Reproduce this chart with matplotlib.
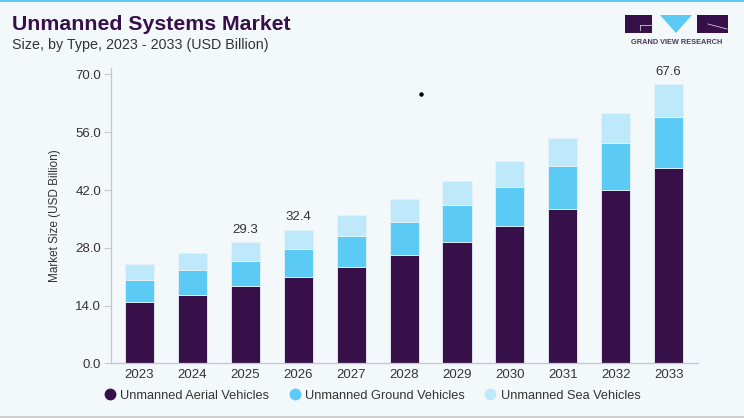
import matplotlib
matplotlib.use("Agg")
import matplotlib.pyplot as plt
import numpy as np
from matplotlib.lines import Line2D
from matplotlib.patches import Polygon, Rectangle

# values (USD billion)
years = ["2023", "2024", "2025", "2026", "2027", "2028",
         "2029", "2030", "2031", "2032", "2033"]
aerial = [14.9, 16.6, 18.7, 20.8, 23.3, 26.3, 29.5, 33.2, 37.3, 42.0, 47.3]
ground = [5.4, 5.9, 6.2, 7.0, 7.5, 7.9, 8.8, 9.5, 10.5, 11.4, 12.4]
sea = [3.8, 4.2, 4.4, 4.6, 5.1, 5.6, 5.8, 6.4, 6.7, 7.3, 7.9]
labelled = {"2025": "29.3", "2026": "32.4", "2033": "67.6"}
series_names = ["Unmanned Aerial Vehicles", "Unmanned Ground Vehicles",
                "Unmanned Sea Vehicles"]
y_ticks = [0, 14, 28, 42, 56, 70]

DARK = "#37104A"
GROUND = "#5BCBF6"
SEA = "#BDE9FA"
BG = "#F3F8FB"
TXT = "#333333"

plt.rcParams["font.family"] = ["Liberation Sans", "DejaVu Sans"]

fig = plt.figure(figsize=(7.44, 4.18), dpi=100, facecolor=BG)
ax = fig.add_axes([0.1488, 0.1309, 0.789, 0.7057])
ax.set_facecolor(BG)

x = np.arange(len(years))
a = np.array(aerial)
g = np.array(ground)
s = np.array(sea)
w = 0.55
edge = dict(edgecolor="#E6F1F7", linewidth=0.6)
ax.bar(x, a, w, color=DARK, **edge)
ax.bar(x, g, w, bottom=a, color=GROUND, **edge)
ax.bar(x, s, w, bottom=a + g, color=SEA, **edge)

totals = a + g + s
for i, yr in enumerate(years):
    if yr in labelled:
        ax.text(x[i], totals[i] + 1.6, labelled[yr], ha="center", va="bottom",
                fontsize=9.5, color=TXT)

ax.set_xlim(-0.545, len(years) - 1 + 0.55)
ax.set_ylim(0, 71.5)
ax.set_xticks(x)
ax.set_xticklabels(years)
ax.set_yticks(y_ticks)
ax.set_yticklabels([f"{v:.1f}" for v in y_ticks])
ax.tick_params(axis="x", length=0, pad=4, labelsize=9.5, labelcolor=TXT)
ax.tick_params(axis="y", length=5, width=0.8, color="#C4C8CC", pad=2,
               labelsize=9.5, labelcolor=TXT)
for side in ("top", "right"):
    ax.spines[side].set_visible(False)
for side in ("left", "bottom"):
    ax.spines[side].set_color("#C4C8CC")
    ax.spines[side].set_linewidth(0.9)

ax.set_ylabel("Market Size (USD Billion)", fontsize=8.5, color=TXT)
ax.yaxis.set_label_coords(-0.084, 0.5)

handles = [Line2D([], [], marker="o", linestyle="none", markersize=7.5,
                  markerfacecolor=c, markeredgecolor=c)
           for c in (DARK, GROUND, SEA)]
fig.legend(handles, series_names, loc="center", bbox_to_anchor=(0.5, 0.053),
           ncol=3, frameon=False, fontsize=9.2, handletextpad=0.3,
           columnspacing=1.5, labelcolor=TXT, handlelength=1.0)

# titles
fig.text(12 / 744, 1 - 25 / 418, "Unmanned Systems Market", fontsize=15.3,
         fontweight="bold", color=DARK, va="center", ha="left")
fig.text(12 / 744, 1 - 45 / 418, "Size, by Type, 2023 - 2033 (USD Billion)",
         fontsize=10.3, color=TXT, va="center", ha="left")

# frame: cyan top line and grey bottom line
fig.add_artist(Rectangle((0, 1 - 2 / 418), 1, 2 / 418, transform=fig.transFigure,
                         facecolor="#5BCBF6", edgecolor="none"))
fig.add_artist(Rectangle((0, 0), 1, 2 / 418, transform=fig.transFigure,
                         facecolor="#CFCFCF", edgecolor="none"))

# logo
def px(xp, yp):
    return (xp / 744, 1 - yp / 418)

fig.add_artist(Rectangle(px(625, 33), 27 / 744, 18 / 418,
                         transform=fig.transFigure, facecolor=DARK, edgecolor="none"))
fig.add_artist(Rectangle(px(697, 33), 31 / 744, 18 / 418,
                         transform=fig.transFigure, facecolor=DARK, edgecolor="none"))
fig.add_artist(Polygon([px(660, 15), px(692, 15), px(676, 33)],
                       transform=fig.transFigure, facecolor=GROUND, edgecolor="none"))
fig.add_artist(Line2D([px(640, 25)[0], px(652, 25)[0]], [px(640, 25)[1]] * 2,
                      transform=fig.transFigure, color="#CFC6D6", linewidth=0.6))
fig.add_artist(Line2D([px(640, 25)[0]] * 2, [px(640, 25)[1], px(640, 30)[1]],
                      transform=fig.transFigure, color="#CFC6D6", linewidth=0.6))
fig.add_artist(Line2D([px(708, 24)[0], px(727, 29)[0]], [px(708, 24)[1], px(727, 29)[1]],
                      transform=fig.transFigure, color="#CFC6D6", linewidth=0.6))
fig.text(676.5 / 744, 1 - 42 / 418, "GRAND VIEW RESEARCH", fontsize=5.3,
         fontweight="bold", color="#4A3A5A", ha="center", va="center")

# stray dot in the reference
fig.add_artist(Line2D([421 / 744], [1 - 94 / 418], transform=fig.transFigure,
                      marker="o", markersize=2.2, color="black", linestyle="none"))

fig.savefig("out.png", dpi=100, facecolor=BG)
